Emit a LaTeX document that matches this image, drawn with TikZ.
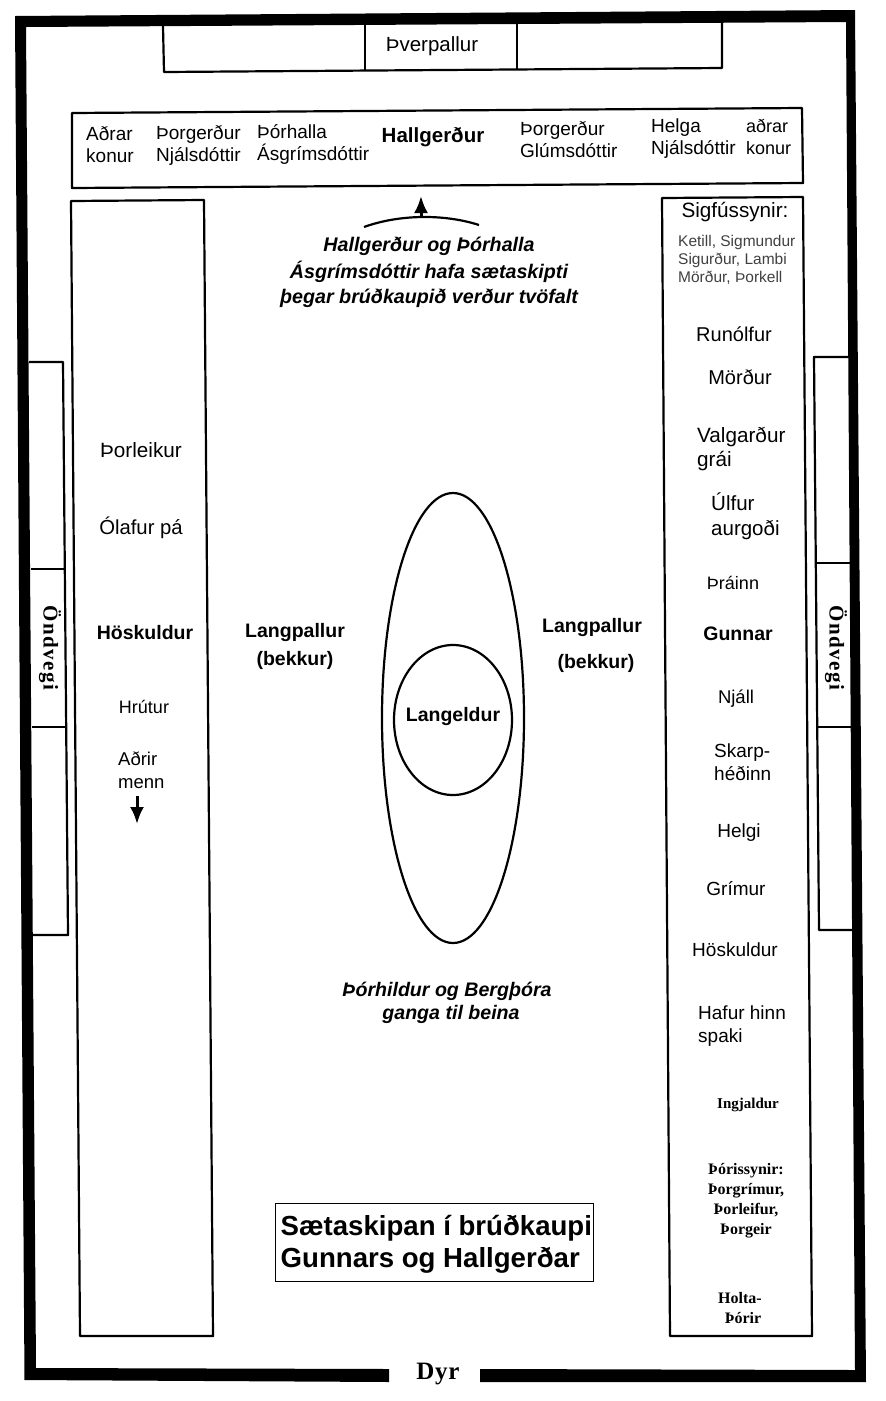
\documentclass[tikz,border=0pt]{standalone}
\usepackage{fontspec}
\setmainfont{Liberation Sans}
\newfontfamily\serifface{Liberation Serif}
\newfontfamily\spacedface[LetterSpace=7]{Liberation Serif}
\newfontfamily\doorface[LetterSpace=3]{Liberation Serif}
\newcommand{\fs}[1]{\fontsize{#1}{#1}\selectfont}
\usetikzlibrary{arrows.meta,shapes.geometric}
\tikzset{
  line/.style={draw=black,line width=2.2pt,line join=round},
  wall/.style={fill=black,draw=none},
  lab/.style={inner sep=0pt,font=\fs{19},text=black,align=left},
  labb/.style={lab,font=\bfseries\fs{19.5}},
  lebb/.style={inner sep=0pt,font=\bfseries\itshape\fs{19.7},align=center},
  tiny/.style={lab,font=\fs{15.5},text=black!75},
  old/.style={inner sep=0pt,font=\serifface\bfseries\fs{16},align=center},
  seat/.style={inner sep=0pt,font=\spacedface\bfseries\fs{21}},
  bigarrow/.style={-{Latex[length=17pt,width=14pt]},line width=3pt}
}
\begin{document}
\begin{tikzpicture}[x=1pt,y=-1pt]
\useasboundingbox (0,0) rectangle (886,1401);
% outer wall
\fill[wall] (389,1369) -- (36,1368) -- (26,27) -- (846,22) -- (855,1370) -- (480,1369) -- (480,1382) -- (866,1382) -- (855,10) -- (15,16) -- (24.5,1380) -- (389,1382) -- cycle;
% cross platform
\draw[line] (163,26) -- (164,72) -- (722,68) -- (722,23);
\draw[line] (365,25) -- (365,70);
\draw[line] (517,24) -- (517,69);
% top bench
\draw[line] (72,113) -- (802,108) -- (803,183) -- (72,188) -- cycle;
% long benches
\draw[line] (71,201) -- (204,200) -- (213,1336) -- (80,1336) -- cycle;
\draw[line] (662,198) -- (803,197) -- (812,1336) -- (670,1336) -- cycle;
% high seats
\draw[line] (29,362) -- (63,362) -- (68,935) -- (33,935);
\draw[line] (31,569) -- (65,569);
\draw[line] (32,727) -- (66,727);
\draw[line] (849,357) -- (814,357) -- (819,930) -- (853,930);
\draw[line] (817,563) -- (851,563);
\draw[line] (818,727) -- (852,727);
% fire
\node[draw,line width=2.2pt,ellipse,minimum width=142pt,minimum height=450pt,inner sep=0pt] (pall) at (453,718) {};
\node[draw,line width=2.2pt,ellipse,minimum width=118pt,minimum height=150pt,inner sep=0pt] (eldur) at (453,720) {};
\node[inner sep=0pt,font=\bfseries\fs{19.5}] (lang) at (453,716) {Langeldur};
% arc and arrows
\draw[line width=2.2pt] (364,227) .. controls (400,214) and (445,214) .. (479,225);
\coordinate (upa) at (421,218);
\coordinate (upb) at (421,196);
\draw[bigarrow] (upa) -- (upb);
\coordinate (dna) at (137,796);
\coordinate (dnb) at (137,824);
\draw[bigarrow] (dna) -- (dnb);
% texts
\node[lab,font=\fs{20.5}] (thver) at (432,46) {Þverpallur};
\node[lab,anchor=west] (a1) at (86,145) {Aðrar\\[3pt]konur};
\node[lab,anchor=west] (a2) at (156,145) {Þorgerður\\[3pt]Njálsdóttir};
\node[lab,anchor=west] (a3) at (257,144) {Þórhalla\\[3pt]Ásgrímsdóttir};
\node[labb,font=\bfseries\fs{20.5}] (a4) at (433,137) {Hallgerður};
\node[lab,anchor=west] (a5) at (520,140) {Þorgerður\\[3pt]Glúmsdóttir};
\node[lab,anchor=west] (a6) at (651,139) {Helga\\[3pt]Njálsdóttir};
\node[lab,anchor=west,font=\fs{18}] (a7) at (746,137) {aðrar\\[4pt]konur};
\node[lebb] (note) at (429,272) {Hallgerður og Þórhalla\\[5pt]Ásgrímsdóttir hafa sætaskipti\\[5pt]þegar brúðkaupið verður tvöfalt};
% left bench
\node[lab,font=\fs{20.7}] (l1) at (141,450) {Þorleikur};
\node[lab,font=\fs{20.3}] (l2) at (141,528) {Ólafur pá};
\node[labb] (l3) at (145,633) {Höskuldur};
\node[lab,font=\fs{18}] (l4) at (144,707) {Hrútur};
\node[lab,anchor=west,font=\fs{18.5}] (l5) at (118,770) {Aðrir\\[5pt]menn};
% right bench
\node[lab,font=\fs{20.7}] (r0) at (735,212) {Sigfússynir:};
\node[tiny,anchor=west] (r1) at (678,260) {Ketill, Sigmundur\\[2.5pt]Sigurður, Lambi\\[2.5pt]Mörður, Þorkell};
\node[lab,font=\fs{20}] (r2) at (734,334) {Runólfur};
\node[lab,font=\fs{20}] (r3) at (740,377) {Mörður};
\node[lab,anchor=west,font=\fs{20.7}] (r4) at (697,449) {Valgarður\\[4pt]grái};
\node[lab,anchor=west,font=\fs{20.5}] (r5) at (711,516) {Úlfur\\[4pt]aurgoði};
\node[lab,font=\fs{18}] (r6) at (733,583) {Þráinn};
\node[labb] (r7) at (738,634) {Gunnar};
\node[lab,font=\fs{18.5}] (r8) at (736,699) {Njáll};
\node[lab,anchor=west] (r9) at (714,762) {Skarp-\\[4pt]héðinn};
\node[lab] (r10) at (739,833) {Helgi};
\node[lab] (r11) at (736,889) {Grímur};
\node[lab] (r12) at (735,950) {Höskuldur};
\node[lab,anchor=west] (r13) at (698,1026) {Hafur hinn\\[4pt]spaki};
\node[old,font=\serifface\bfseries\fs{15}] (r14) at (748,1105) {Ingjaldur};
\node[old] (r15) at (746,1201) {Þórissynir:\\[4pt]Þorgrímur,\\[4pt]Þorleifur,\\[4pt]Þorgeir};
\node[old] (r16) at (740,1308) {Holta-\\[4pt]\hspace*{6pt}Þórir};
% centre labels
\node[labb] (m1) at (295,632) {Langpallur};
\node[labb] (m2) at (295,660) {(bekkur)};
\node[labb] (m3) at (592,627) {Langpallur};
\node[labb] (m4) at (596,663) {(bekkur)};
\node[lebb,font=\bfseries\itshape\fs{19.6}] (n2) at (447,1003) {Þórhildur og Bergþóra\\[4pt]\hspace*{8pt}ganga til beina};
% title
\node[draw,line width=1pt,minimum width=318pt,minimum height=78pt,inner sep=0pt] (titlebox) at (434,1242) {};
\node[inner sep=0pt,anchor=west,align=left,font=\bfseries\fs{27.6}] (title) at (280.5,1244.5) {Sætaskipan í brúðkaupi\\[4pt]Gunnars og Hallgerðar};
% seats and door
\node[seat,rotate=-90] (s1) at (50,648) {Öndvegi};
\node[seat,rotate=-90] (s2) at (836,648) {Öndvegi};
\node[inner sep=0pt,font=\doorface\bfseries\fs{25}] (dyr) at (438,1374) {Dyr};
\end{tikzpicture}
\end{document}
